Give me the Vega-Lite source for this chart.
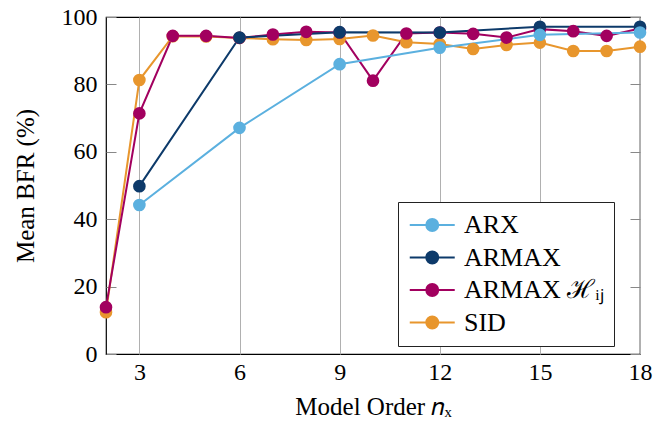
{
  "$schema": "https://vega.github.io/schema/vega-lite/v6.json",
  "width": 534,
  "height": 337,
  "autosize": "none",
  "padding": {"left": 106, "top": 17, "right": 27, "bottom": 70},
  "background": "white",
  "config": {
    "font": "Liberation Serif",
    "view": {"stroke": "black", "strokeWidth": 1.2}
  },
  "data": {
    "values": [
      {"method": "SID", "n": 2, "bfr": 12.4},
      {"method": "SID", "n": 3, "bfr": 81.3},
      {"method": "SID", "n": 4, "bfr": 94.3},
      {"method": "SID", "n": 5, "bfr": 94.2},
      {"method": "SID", "n": 6, "bfr": 93.8},
      {"method": "SID", "n": 7, "bfr": 93.4},
      {"method": "SID", "n": 8, "bfr": 93.2},
      {"method": "SID", "n": 9, "bfr": 93.5},
      {"method": "SID", "n": 10, "bfr": 94.5},
      {"method": "SID", "n": 11, "bfr": 92.5},
      {"method": "SID", "n": 12, "bfr": 92.0},
      {"method": "SID", "n": 13, "bfr": 90.5},
      {"method": "SID", "n": 14, "bfr": 91.7},
      {"method": "SID", "n": 15, "bfr": 92.4},
      {"method": "SID", "n": 16, "bfr": 89.9},
      {"method": "SID", "n": 17, "bfr": 89.9},
      {"method": "SID", "n": 18, "bfr": 91.2},
      {"method": "ARMAX ℋᵢⱼ", "n": 2, "bfr": 13.9},
      {"method": "ARMAX ℋᵢⱼ", "n": 3, "bfr": 71.4},
      {"method": "ARMAX ℋᵢⱼ", "n": 4, "bfr": 94.4},
      {"method": "ARMAX ℋᵢⱼ", "n": 5, "bfr": 94.4},
      {"method": "ARMAX ℋᵢⱼ", "n": 6, "bfr": 93.8},
      {"method": "ARMAX ℋᵢⱼ", "n": 7, "bfr": 94.8},
      {"method": "ARMAX ℋᵢⱼ", "n": 8, "bfr": 95.6},
      {"method": "ARMAX ℋᵢⱼ", "n": 9, "bfr": 95.4},
      {"method": "ARMAX ℋᵢⱼ", "n": 10, "bfr": 81.1},
      {"method": "ARMAX ℋᵢⱼ", "n": 11, "bfr": 95.1},
      {"method": "ARMAX ℋᵢⱼ", "n": 12, "bfr": 95.4},
      {"method": "ARMAX ℋᵢⱼ", "n": 13, "bfr": 95.0},
      {"method": "ARMAX ℋᵢⱼ", "n": 14, "bfr": 93.9},
      {"method": "ARMAX ℋᵢⱼ", "n": 15, "bfr": 96.4},
      {"method": "ARMAX ℋᵢⱼ", "n": 16, "bfr": 95.8},
      {"method": "ARMAX ℋᵢⱼ", "n": 17, "bfr": 94.4},
      {"method": "ARMAX ℋᵢⱼ", "n": 18, "bfr": 96.6},
      {"method": "ARMAX", "n": 3, "bfr": 49.8},
      {"method": "ARMAX", "n": 6, "bfr": 93.9},
      {"method": "ARMAX", "n": 9, "bfr": 95.5},
      {"method": "ARMAX", "n": 12, "bfr": 95.4},
      {"method": "ARMAX", "n": 15, "bfr": 97.1},
      {"method": "ARMAX", "n": 18, "bfr": 97.1},
      {"method": "ARX", "n": 3, "bfr": 44.2},
      {"method": "ARX", "n": 6, "bfr": 67.1},
      {"method": "ARX", "n": 9, "bfr": 86.0},
      {"method": "ARX", "n": 12, "bfr": 90.9},
      {"method": "ARX", "n": 15, "bfr": 94.7},
      {"method": "ARX", "n": 18, "bfr": 95.4}
    ]
  },
  "encoding": {
    "x": {
      "field": "n", "type": "quantitative",
      "scale": {"domain": [2, 18], "nice": false, "zero": false},
      "axis": {
        "values": [3, 6, 9, 12, 15, 18],
        "title": "Model Order 𝑛ₓ",
        "grid": true, "gridColor": "#b0b0b0", "gridWidth": 1,
        "ticks": false, "domain": false, "labelFlush": false,
        "labelFontSize": 24, "labelColor": "black", "labelPadding": 6,
        "titleFontSize": 25, "titleFontWeight": "normal", "titleColor": "black", "titlePadding": 10
      }
    },
    "y": {
      "field": "bfr", "type": "quantitative",
      "scale": {"domain": [0, 100], "nice": false},
      "axis": {
        "values": [0, 20, 40, 60, 80, 100],
        "title": "Mean BFR (%)",
        "grid": false, "domain": false, "labelFlush": false,
        "tickSize": -10, "tickColor": "#888888", "tickWidth": 1,
        "labelFontSize": 24, "labelColor": "black", "labelPadding": 19,
        "titleFontSize": 25, "titleFontWeight": "normal", "titleColor": "black", "titlePadding": 23
      }
    },
    "color": {
      "field": "method", "type": "nominal",
      "scale": {
        "domain": ["ARX", "ARMAX", "ARMAX ℋᵢⱼ", "SID"],
        "range": ["#5BB0DF", "#0D3A6A", "#A2005F", "#E8962D"]
      },
      "legend": {
        "title": null,
        "orient": "none", "legendX": 292, "legendY": 185,
        "symbolType": "M-1,0H3M0.47,0A0.53,0.53 0 1,0 1.53,0A0.53,0.53 0 1,0 0.47,0",
        "symbolSize": 506, "symbolStrokeWidth": 2,
        "labelFontSize": 26, "labelColor": "black", "labelFont": "Liberation Serif",
        "rowPadding": 6.5, "labelOffset": 30,
        "fillColor": "white", "strokeColor": "#222222", "padding": 10,
        "labelLimit": 400
      }
    }
  },
  "layer": [
    {
      "layer": [
        {"mark": {"type": "line", "strokeWidth": 2}},
        {"mark": {"type": "point", "filled": true, "opacity": 1, "size": 160, "shape": "circle"}}
      ]
    },
    {
      "mark": {"type": "rule", "opacity": 0},
      "encoding": {
        "y": {
          "field": "bfr", "type": "quantitative",
          "axis": {
            "orient": "right", "values": [0, 20, 40, 60, 80, 100],
            "labels": false, "title": null, "domain": false, "grid": false,
            "tickSize": -10, "tickColor": "#888888", "tickWidth": 1
          }
        },
        "color": {"value": "transparent"}
      }
    }
  ],
  "resolve": {"axis": {"y": "independent"}}
}
